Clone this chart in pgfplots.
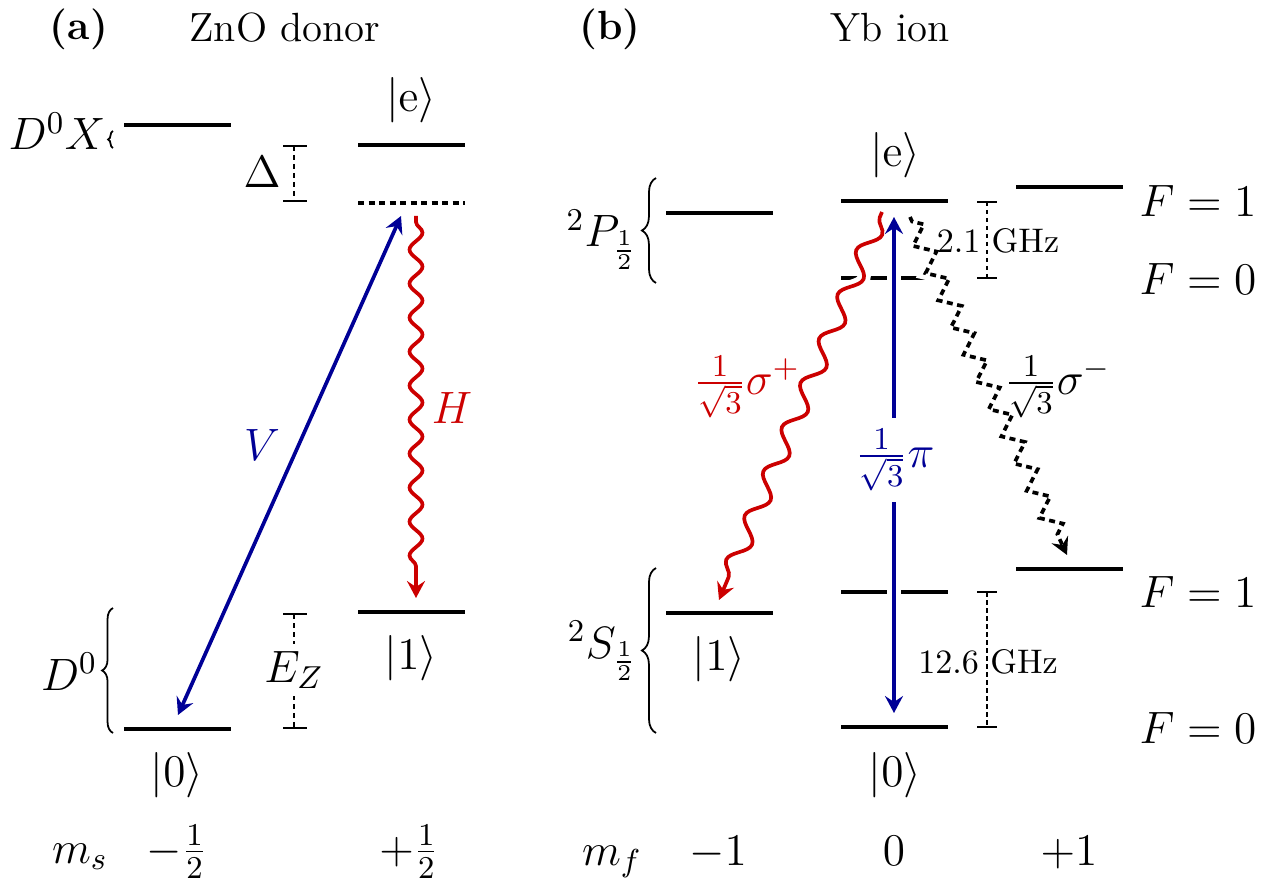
\RequirePackage{fix-cm}
\documentclass[border=0pt]{standalone}
\usepackage{pgfplots}
\pgfplotsset{compat=1.18}
\usetikzlibrary{arrows.meta,decorations.pathmorphing,decorations.pathreplacing}
\definecolor{dblue}{RGB}{0,0,150}
\definecolor{dred}{RGB}{204,0,0}
\tikzset{
  lvl/.style={black,line width=1.4pt},
  mk/.style={black,line width=0.6pt},
  mkthin/.style={black,line width=0.35pt},
  tip/.style={-{Stealth[length=1.7mm,width=1.8mm,inset=0.6mm]}},
  tips/.style={{Stealth[length=1.7mm,width=1.8mm,inset=0.6mm]}-{Stealth[length=1.7mm,width=1.8mm,inset=0.6mm]}},
  lab/.style={inner sep=0pt},
  ttl/.style={inner sep=0pt,font=\fontsize{11.6}{14}\selectfont},
  ghz/.style={inner sep=0pt,font=\fontsize{9.7}{11.6}\selectfont},
}
\begin{document}
\begin{tikzpicture}[font=\fontsize{12.9}{15.5}\selectfont]
\begin{axis}[width=12.69cm,height=8.83cm,scale only axis,
  xmin=0,xmax=1269,ymin=0,ymax=883,y dir=reverse,
  axis lines=none,clip=false]
% frame of the picture (invisible)
\addplot[draw=none] coordinates {(0,0) (1269,883)};
% ---------------- panel (a) levels
\addplot[lvl] coordinates {(124,125) (231,125)};
\addplot[lvl] coordinates {(358,145) (465,145)};
\addplot[lvl,dash pattern=on 0.6mm off 0.45mm] coordinates {(358,203) (465,203)};
\addplot[lvl] coordinates {(358,612) (465,612)};
\addplot[lvl] coordinates {(124,729) (231,729)};
% Delta marker
\addplot[mk,dash pattern=on 0.5mm off 0.4mm] coordinates {(294,146) (294,201)};
\addplot[mk] coordinates {(283,146) (307,146)};
\addplot[mk] coordinates {(283,201) (307,201)};
% E_Z marker
\addplot[mk,dash pattern=on 0.5mm off 0.4mm] coordinates {(294,614) (294,728)};
\addplot[mk] coordinates {(283,614) (307,614)};
\addplot[mk] coordinates {(283,728) (307,728)};
% braces
\addplot[black,line width=0.5pt,decorate,decoration={brace,amplitude=3.1pt}] coordinates {(113,733) (113,608)};
\addplot[black,line width=0.5pt,decorate,decoration={brace,amplitude=1.4pt}] coordinates {(113,148) (113,131)};
% transitions (a)
\addplot[dblue,line width=1.05pt,tips] coordinates {(178,715) (401,216)};
\addplot[dred,line width=1.05pt,tip,decorate,decoration={snake,amplitude=0.65mm,segment length=3.4mm,pre length=0.6mm,post length=2.2mm}] coordinates {(416,216) (416,598)};
% labels (a)
\node[lab,anchor=base] at (axis cs:79,40) {\fontsize{11.6}{14}\selectfont\textbf{(a)}};
\node[ttl,anchor=base] at (axis cs:285,42) {ZnO donor};
\node[lab,anchor=base east] at (axis cs:106,150) {$D^0X$};
\node[lab,anchor=base east] at (axis cs:98,690) {$D^0$};
\node[lab,anchor=base] at (axis cs:262,188) {$\Delta$};
\node[lab,anchor=base,fill=white,inner ysep=2pt] at (axis cs:294,682) {$E_Z$};
\node[lab] at (axis cs:411,100) {$|\mathrm{e}\rangle$};
\node[lab] at (axis cs:411,658) {$|1\rangle$};
\node[lab] at (axis cs:177,775) {$|0\rangle$};
\node[lab,text=dblue] at (axis cs:262,445) {$V$};
\node[lab,text=dred] at (axis cs:452,408) {$H$};
\node[lab,anchor=base] at (axis cs:80,863) {$m_s$};
\node[lab,anchor=base] at (axis cs:177,863) {$-\frac{1}{2}$};
\node[lab,anchor=base] at (axis cs:409,863) {$+\frac{1}{2}$};
% ---------------- panel (b) levels
\addplot[lvl] coordinates {(666,213) (773,213)};
\addplot[lvl] coordinates {(841,201) (948,201)};
\addplot[lvl] coordinates {(841,278) (948,278)};
\addplot[lvl] coordinates {(1016,187) (1123,187)};
\addplot[lvl] coordinates {(666,613) (773,613)};
\addplot[lvl] coordinates {(841,592) (948,592)};
\addplot[lvl] coordinates {(841,727) (948,727)};
\addplot[lvl] coordinates {(1016,569) (1123,569)};
% hyperfine markers
\addplot[mkthin,dash pattern=on 0.45mm off 0.35mm] coordinates {(987,202) (987,278)};
\addplot[mkthin] coordinates {(977,202) (997,202)};
\addplot[mkthin] coordinates {(977,278) (997,278)};
\addplot[mkthin,dash pattern=on 0.45mm off 0.35mm] coordinates {(987,592) (987,727)};
\addplot[mkthin] coordinates {(977,592) (997,592)};
\addplot[mkthin] coordinates {(977,727) (997,727)};
% braces
\addplot[black,line width=0.5pt,decorate,decoration={brace,amplitude=4pt}] coordinates {(656,283) (656,178)};
\addplot[black,line width=0.5pt,decorate,decoration={brace,amplitude=4pt}] coordinates {(656,733) (656,568)};
% transitions (b)
\addplot[dred,line width=1.05pt,tip,preaction={draw=white,line width=3.8pt},decorate,decoration={snake,amplitude=0.9mm,segment length=4.8mm,pre length=0.6mm,post length=2.2mm}] coordinates {(882,212) (719,600)};
\addplot[black,line width=1.05pt,tip,dash pattern=on 0.6mm off 0.45mm,preaction={draw=white,line width=3.8pt,solid},decorate,decoration={zigzag,amplitude=0.95mm,segment length=3mm,pre length=0.5mm,post length=2mm}] coordinates {(910,217) (1067,555)};
\addplot[dblue,line width=1.05pt,preaction={draw=white,line width=3.8pt},tips] coordinates {(894,713) (894,217)};
% labels (b)
\node[lab,anchor=base] at (axis cs:610,40) {\fontsize{11.6}{14}\selectfont\textbf{(b)}};
\node[ttl,anchor=base] at (axis cs:890,42) {Yb ion};
\node[lab] at (axis cs:895,155) {$|\mathrm{e}\rangle$};
\node[lab] at (axis cs:719,659) {$|1\rangle$};
\node[lab] at (axis cs:895,775) {$|0\rangle$};
\node[lab,anchor=base east] at (axis cs:638,247) {$^2P_{\frac{1}{2}}$};
\node[lab,anchor=base east] at (axis cs:638,658) {$^2S_{\frac{1}{2}}$};
\node[lab,anchor=base] at (axis cs:1198,217) {$F=1$};
\node[lab,anchor=base] at (axis cs:1198,295) {$F=0$};
\node[lab,anchor=base] at (axis cs:1198,607) {$F=1$};
\node[lab,anchor=base] at (axis cs:1198,743) {$F=0$};
\node[ghz,anchor=base] at (axis cs:998,253) {2.1 GHz};
\node[ghz,anchor=base] at (axis cs:988,673) {12.6 GHz};
\node[lab,text=dred] at (axis cs:747,387) {$\frac{1}{\sqrt{3}}\sigma^+$};
\node[lab] at (axis cs:1058,387) {$\frac{1}{\sqrt{3}}\sigma^-$};
\node[lab,text=dblue,fill=white,inner ysep=3pt] at (axis cs:895,460) {$\frac{1}{\sqrt{3}}\pi$};
\node[lab,anchor=base] at (axis cs:612,865) {$m_f$};
\node[lab,anchor=base] at (axis cs:718,865) {$-1$};
\node[lab,anchor=base] at (axis cs:894,865) {$0$};
\node[lab,anchor=base] at (axis cs:1069,865) {$+1$};
\end{axis}
\end{tikzpicture}
\end{document}
